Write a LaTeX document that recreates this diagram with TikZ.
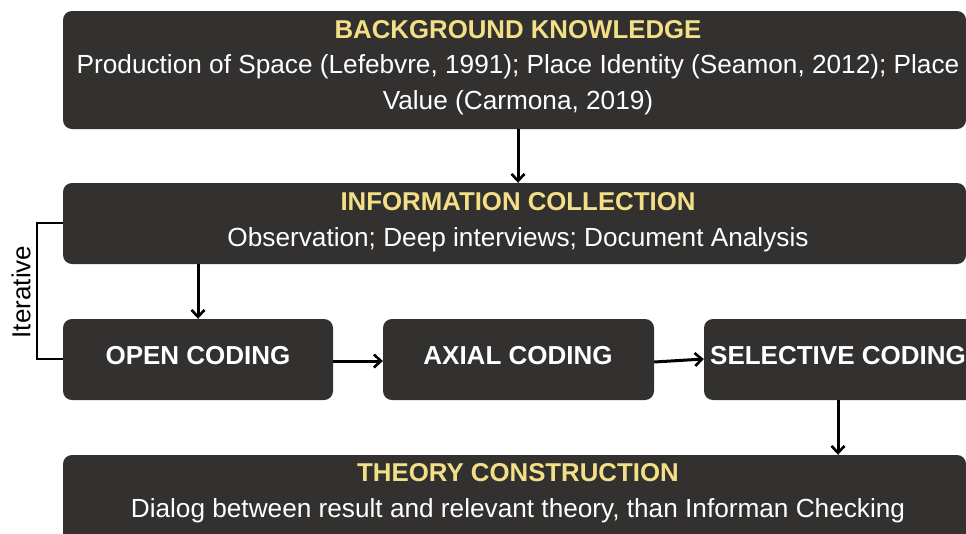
\documentclass[tikz,border=0pt]{standalone}
\usepackage{fontspec}
\setmainfont{Liberation Sans}
\usetikzlibrary{arrows.meta}
\definecolor{boxc}{HTML}{333130}
\definecolor{titc}{HTML}{F2DF86}
\tikzset{
  box/.style={fill=boxc, rounded corners=9pt, inner sep=0pt, draw=none},
  ttl/.style={text=titc, font=\fontsize{25.8}{28}\selectfont\bfseries, inner sep=0pt},
  bod/.style={text=white, font=\fontsize{26.2}{28}\selectfont, inner sep=0pt},
  cod/.style={text=white, font=\fontsize{26}{28}\selectfont\bfseries, inner sep=0pt},
  arr/.style={-{Straight Barb[length=7pt,width=13pt,line width=2.6pt]}, line width=3pt, black},
}
\begin{document}
\begin{tikzpicture}[x=1pt,y=-1pt]
\useasboundingbox (0,0) rectangle (966,533);
% boxes
\node[box, minimum width=903pt, minimum height=118pt] (bk) at (514.5,70) {};
\node[box, minimum width=903pt, minimum height=81pt] (ic) at (514.5,223.5) {};
\node[box, minimum width=270pt, minimum height=81pt] (oc) at (198,359.5) {};
\node[box, minimum width=271pt, minimum height=81pt] (ac) at (518.5,359.5) {};
\node[box, minimum width=272pt, minimum height=81pt] (sc) at (840,359.5) {};
\begin{scope}
\clip (0,0) rectangle (966,533);
\node[box, minimum width=903pt, minimum height=100pt] (tc) at (514.5,505) {};
\end{scope}
% texts
\node[ttl] (t1) at (518,30) {BACKGROUND KNOWLEDGE};
\node[bod] (b1a) at (518,67) {Production of Space (Lefebvre, 1991); Place Identity (Seamon, 2012); Place};
\node[bod] (b1b) at (518,103) {Value (Carmona, 2019)};
\node[ttl] (t2) at (518,202) {INFORMATION COLLECTION};
\node[bod] (b2) at (518,239.5) {Observation; Deep interviews; Document Analysis};
\node[cod] (l1) at (198,355.5) {OPEN CODING};
\node[cod] (l2) at (518,355.5) {AXIAL CODING};
\node[cod] (l3) at (838,355.5) {SELECTIVE CODING};
\node[ttl] (t3) at (518,473) {THEORY CONSTRUCTION};
\node[bod] (b3) at (518,511) {Dialog between result and relevant theory, than Informan Checking};
% arrows
\draw[arr] (bk.south -| t1) -- (ic.north -| t1);
\draw[arr] (ic.south -| oc) -- (oc.north);
\draw[arr] ([yshift=-1.5pt]oc.east) -- ([yshift=-1.5pt]ac.west);
\draw[arr] ([yshift=-2.5pt]ac.east) -- ([yshift=0.5pt]sc.west);
\coordinate (s3) at (838,400);
\draw[arr] (s3) -- (s3 |- tc.north);
% iterative bracket
\coordinate (i1) at (37,223);
\coordinate (i2) at (37,359);
\draw[line width=1.3pt, black] (ic.west |- i1) -- (i1) -- (i2) -- (oc.west |- i2);
\node[rotate=90, font=\fontsize{26}{28}\selectfont, inner sep=0pt] (it) at (21,292) {Iterative};
\end{tikzpicture}
\end{document}
